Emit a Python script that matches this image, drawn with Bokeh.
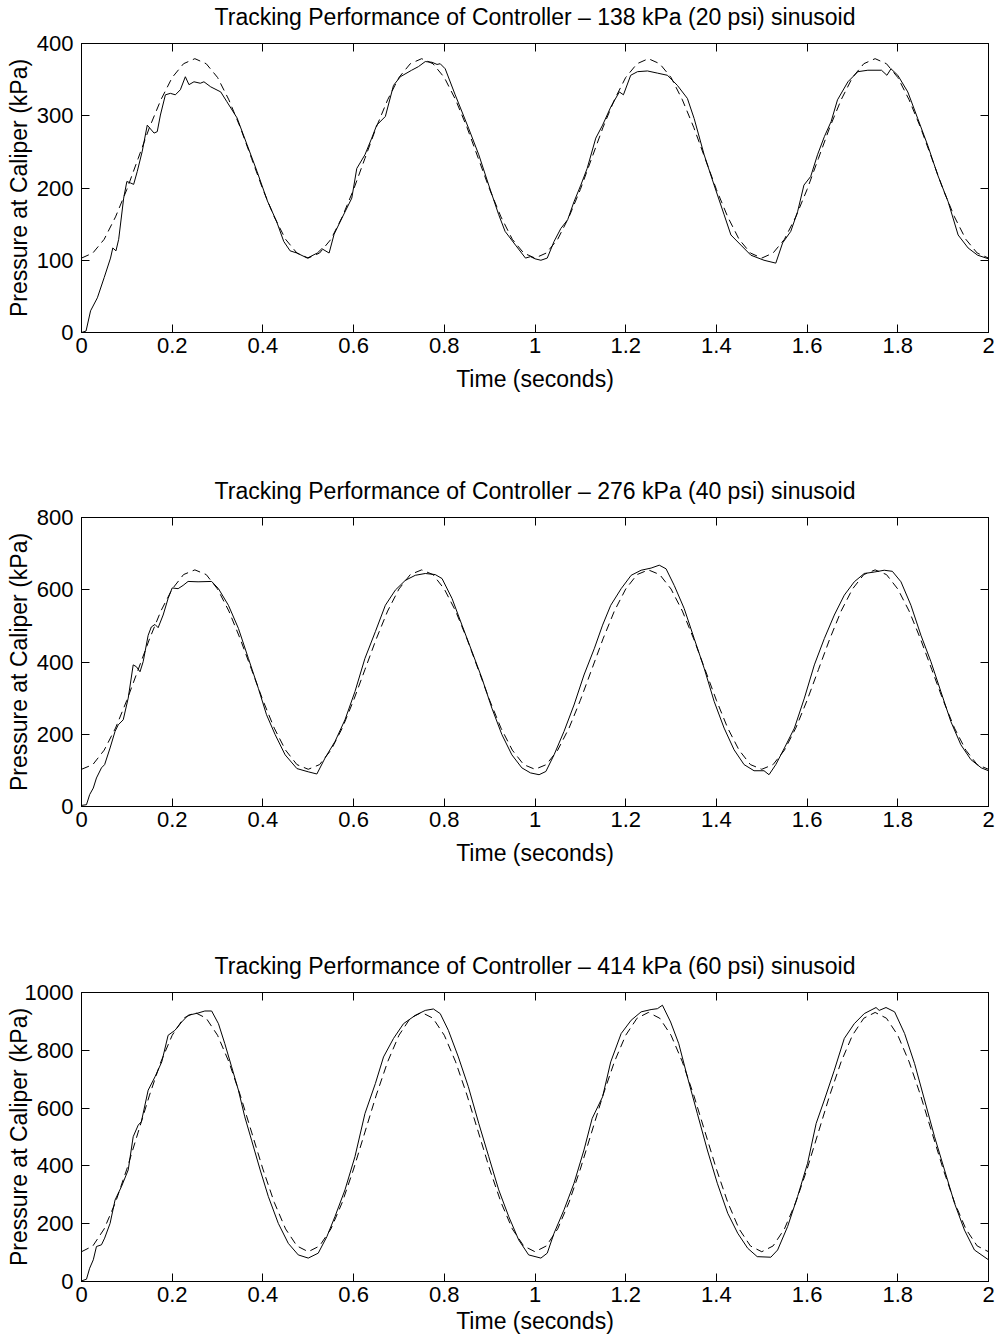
from bokeh.plotting import figure
from bokeh.layouts import column
from bokeh.models import Range1d, FixedTicker, LinearAxis
from bokeh.embed import file_html
from bokeh.resources import INLINE

FONT = "Liberation Sans"

titles = [
    "Tracking Performance of Controller \u2013 138 kPa (20 psi) sinusoid",
    "Tracking Performance of Controller \u2013 276 kPa (40 psi) sinusoid",
    "Tracking Performance of Controller \u2013 414 kPa (60 psi) sinusoid",
]
x_label = "Time (seconds)"
y_label = "Pressure at Caliper (kPa)"

x_ticks = [0, 0.2, 0.4, 0.6, 0.8, 1.0, 1.2, 1.4, 1.6, 1.8, 2.0]
x_tick_labels = ["0", "0.2", "0.4", "0.6", "0.8", "1", "1.2", "1.4", "1.6", "1.8", "2"]
y_ticks_1 = [0, 100, 200, 300, 400]
y_ticks_2 = [0, 200, 400, 600, 800]
y_ticks_3 = [0, 200, 400, 600, 800, 1000]
y_max = [400, 800, 1000]

# reference (dashed) sampled every 0.025 s
t_ref = [i * 0.025 for i in range(81)]
ref_1 = [103, 110, 129, 160, 198, 241, 284, 322, 353, 372, 379, 372, 353, 322, 284, 241, 198, 160, 129, 110,
         103, 110, 129, 160, 198, 241, 284, 322, 353, 372, 379, 372, 353, 322, 284, 241, 198, 160, 129, 110,
         103, 110, 129, 160, 198, 241, 284, 322, 353, 372, 379, 372, 353, 322, 284, 241, 198, 160, 129, 110,
         103, 110, 129, 160, 198, 241, 284, 322, 353, 372, 379, 372, 353, 322, 284, 241, 198, 160, 129, 110,
         103]
ref_2 = [103, 116, 156, 217, 294, 379, 464, 541, 602, 642, 655, 642, 602, 541, 464, 379, 294, 217, 156, 116,
         103, 116, 156, 217, 294, 379, 464, 541, 602, 642, 655, 642, 602, 541, 464, 379, 294, 217, 156, 116,
         103, 116, 156, 217, 294, 379, 464, 541, 602, 642, 655, 642, 602, 541, 464, 379, 294, 217, 156, 116,
         103, 116, 156, 217, 294, 379, 464, 541, 602, 642, 655, 642, 602, 541, 464, 379, 294, 217, 156, 116,
         103]
ref_3 = [103, 123, 182, 274, 389, 517, 645, 760, 852, 911, 931, 911, 852, 760, 645, 517, 389, 274, 182, 123,
         103, 123, 182, 274, 389, 517, 645, 760, 852, 911, 931, 911, 852, 760, 645, 517, 389, 274, 182, 123,
         103, 123, 182, 274, 389, 517, 645, 760, 852, 911, 931, 911, 852, 760, 645, 517, 389, 274, 182, 123,
         103, 123, 182, 274, 389, 517, 645, 760, 852, 911, 931, 911, 852, 760, 645, 517, 389, 274, 182, 123,
         103]

# measured (solid)
t_meas_1 = [0.000, 0.010, 0.020, 0.035, 0.050, 0.064, 0.069, 0.076, 0.082, 0.093, 0.100, 0.108, 0.115, 0.123,
            0.134, 0.145, 0.160, 0.167, 0.174, 0.185, 0.196, 0.207, 0.218, 0.229, 0.237, 0.248, 0.262, 0.270,
            0.285, 0.307, 0.320, 0.343, 0.365, 0.387, 0.410, 0.430, 0.446, 0.460, 0.475, 0.498, 0.520, 0.530,
            0.546, 0.557, 0.574, 0.596, 0.607, 0.625, 0.640, 0.651, 0.670, 0.688, 0.703, 0.728, 0.743, 0.758,
            0.773, 0.784, 0.791, 0.802, 0.824, 0.854, 0.876, 0.898, 0.920, 0.934, 0.957, 0.979, 0.990, 1.000,
            1.013, 1.027, 1.042, 1.057, 1.072, 1.086, 1.101, 1.115, 1.134, 1.149, 1.167, 1.186, 1.195, 1.211,
            1.226, 1.248, 1.270, 1.292, 1.314, 1.336, 1.351, 1.373, 1.395, 1.417, 1.432, 1.454, 1.476, 1.505,
            1.531, 1.546, 1.564, 1.579, 1.593, 1.608, 1.623, 1.638, 1.653, 1.667, 1.690, 1.712, 1.734, 1.764,
            1.776, 1.785, 1.800, 1.822, 1.844, 1.866, 1.888, 1.911, 1.933, 1.955, 1.976, 2.000]
v_meas_1 = [0, 2, 30, 48, 76, 103, 117, 113, 129, 186, 209, 207, 205, 223,
            251, 287, 276, 278, 301, 329, 331, 329, 336, 354, 343, 347, 345, 347,
            340, 333, 320, 297, 260, 223, 182, 154, 126, 113, 110, 103, 110, 116,
            110, 136, 158, 186, 227, 246, 269, 287, 299, 342, 354, 363, 368, 375,
            374, 371, 372, 365, 329, 282, 246, 204, 163, 140, 121, 103, 105, 102,
            100, 103, 126, 144, 156, 181, 204, 227, 269, 287, 312, 333, 329, 356,
            361, 362, 359, 356, 342, 324, 296, 246, 204, 163, 135, 121, 107, 100,
            96, 124, 140, 167, 204, 216, 246, 271, 292, 322, 347, 361, 363, 363,
            356, 365, 356, 333, 296, 259, 218, 181, 135, 117, 107, 102]

t_meas_2 = [0.000, 0.011, 0.018, 0.026, 0.033, 0.044, 0.051, 0.063, 0.074, 0.081, 0.092, 0.103, 0.114, 0.121,
            0.129, 0.136, 0.147, 0.154, 0.162, 0.169, 0.180, 0.191, 0.200, 0.213, 0.224, 0.235, 0.257, 0.287,
            0.302, 0.324, 0.346, 0.368, 0.390, 0.408, 0.427, 0.449, 0.475, 0.500, 0.519, 0.537, 0.559, 0.581,
            0.603, 0.625, 0.648, 0.670, 0.692, 0.714, 0.736, 0.758, 0.780, 0.795, 0.817, 0.839, 0.861, 0.883,
            0.905, 0.927, 0.949, 0.971, 0.990, 1.009, 1.024, 1.042, 1.064, 1.086, 1.108, 1.131, 1.149, 1.167,
            1.190, 1.212, 1.234, 1.256, 1.274, 1.289, 1.307, 1.329, 1.351, 1.373, 1.395, 1.417, 1.439, 1.461,
            1.483, 1.505, 1.516, 1.531, 1.550, 1.572, 1.594, 1.616, 1.638, 1.660, 1.682, 1.704, 1.726, 1.748,
            1.770, 1.788, 1.807, 1.829, 1.851, 1.873, 1.895, 1.917, 1.939, 1.961, 1.984, 2.000]
v_meas_2 = [3, 5, 33, 51, 79, 107, 116, 162, 208, 226, 240, 300, 392, 387,
            373, 401, 474, 497, 504, 495, 530, 576, 605, 603, 612, 623, 622, 623,
            603, 557, 493, 410, 327, 254, 199, 143, 105, 96, 90, 134, 180, 240,
            318, 410, 484, 557, 599, 626, 640, 645, 642, 631, 576, 502, 429, 355,
            272, 199, 143, 107, 93, 88, 97, 143, 208, 281, 364, 438, 502, 557,
            603, 640, 654, 660, 668, 658, 612, 548, 465, 383, 291, 217, 157, 116,
            99, 99, 88, 116, 162, 217, 300, 392, 465, 530, 585, 622, 645, 649,
            654, 651, 622, 557, 474, 401, 318, 235, 171, 130, 107, 99]

t_meas_3 = [0.000, 0.011, 0.018, 0.026, 0.033, 0.044, 0.051, 0.063, 0.074, 0.088, 0.103, 0.114, 0.125, 0.132,
            0.147, 0.162, 0.177, 0.191, 0.206, 0.221, 0.235, 0.257, 0.272, 0.287, 0.302, 0.316, 0.331, 0.346,
            0.360, 0.375, 0.394, 0.412, 0.434, 0.456, 0.478, 0.500, 0.522, 0.541, 0.559, 0.581, 0.603, 0.625,
            0.648, 0.666, 0.688, 0.710, 0.736, 0.758, 0.776, 0.791, 0.809, 0.831, 0.853, 0.876, 0.898, 0.920,
            0.942, 0.964, 0.986, 1.013, 1.027, 1.042, 1.064, 1.086, 1.108, 1.126, 1.149, 1.167, 1.190, 1.212,
            1.234, 1.256, 1.270, 1.281, 1.299, 1.317, 1.336, 1.358, 1.380, 1.402, 1.425, 1.447, 1.469, 1.490,
            1.520, 1.535, 1.557, 1.579, 1.601, 1.620, 1.638, 1.660, 1.682, 1.704, 1.726, 1.752, 1.759, 1.774,
            1.793, 1.815, 1.837, 1.859, 1.881, 1.903, 1.925, 1.947, 1.969, 2.000]
v_meas_3 = [2, 8, 46, 75, 121, 127, 150, 201, 282, 328, 386, 501, 541, 553,
            662, 708, 760, 852, 869, 898, 921, 929, 936, 936, 892, 823, 743, 662,
            570, 489, 386, 294, 201, 132, 92, 81, 98, 155, 225, 317, 432, 581,
            685, 777, 841, 892, 921, 938, 943, 927, 869, 777, 674, 547, 432, 317,
            225, 144, 92, 81, 98, 167, 248, 340, 455, 564, 639, 760, 858, 904,
            933, 941, 944, 956, 898, 823, 708, 581, 455, 340, 236, 167, 115, 86,
            84, 109, 190, 294, 409, 547, 628, 731, 841, 892, 927, 948, 938, 948,
            933, 858, 754, 628, 501, 386, 271, 178, 109, 75]


def style_axis(ax, size):
    ax.major_tick_in = 8
    ax.major_tick_out = 0
    ax.minor_tick_line_color = None
    ax.major_tick_line_color = "black"
    ax.axis_line_color = "black"
    ax.major_label_text_font = FONT
    ax.major_label_text_font_size = size
    ax.major_label_text_color = "black"
    ax.axis_label_text_font = FONT
    ax.axis_label_text_font_size = "23px"
    ax.axis_label_text_font_style = "normal"
    ax.axis_label_text_color = "black"


def make_panel(title, t_meas, v_meas, v_ref, ymax, yticks, height, bottom,
               xtick_standoff, xlab_standoff, ylab_standoff):
    p = figure(width=1000, height=height, x_range=Range1d(0, 2), y_range=Range1d(0, ymax),
               output_backend="svg", toolbar_location=None, frame_align=False,
               min_border_left=81, min_border_right=12, min_border_top=42,
               min_border_bottom=bottom,
               background_fill_color="white", border_fill_color="white")
    p.grid.visible = False
    p.outline_line_color = "black"
    p.outline_line_width = 1
    p.outline_line_alpha = 1

    p.line(t_ref, v_ref, line_color="black", line_width=1, line_dash="8 5")
    p.line(t_meas, v_meas, line_color="black", line_width=1)

    xa = p.xaxis[0]
    xa.ticker = FixedTicker(ticks=x_ticks)
    xa.major_label_overrides = {tk: lb for tk, lb in zip(x_ticks, x_tick_labels)}
    style_axis(xa, "22px")
    xa.major_label_standoff = xtick_standoff
    xa.axis_label = x_label
    xa.axis_label_standoff = xlab_standoff

    ya = p.yaxis[0]
    ya.ticker = FixedTicker(ticks=yticks)
    style_axis(ya, "22px")
    ya.major_label_standoff = 8
    ya.axis_label = y_label
    ya.axis_label_standoff = ylab_standoff

    top = LinearAxis(ticker=FixedTicker(ticks=x_ticks))
    style_axis(top, "0px")
    top.major_label_standoff = 0
    top.major_label_overrides = {tk: "" for tk in x_ticks}
    top.axis_label = title
    top.axis_label_standoff = 14
    p.add_layout(top, "above")

    right = LinearAxis(ticker=FixedTicker(ticks=yticks))
    style_axis(right, "0px")
    right.major_label_standoff = 0
    right.major_label_overrides = {tk: "" for tk in yticks}
    p.add_layout(right, "right")
    return p


p1 = make_panel(titles[0], t_meas_1, v_meas_1, ref_1, y_max[0], y_ticks_1, 474, 142, 5, 10, 2)
p2 = make_panel(titles[1], t_meas_2, v_meas_2, ref_2, y_max[1], y_ticks_2, 475, 143, 5, 10, 2)
p3 = make_panel(titles[2], t_meas_3, v_meas_3, ref_3, y_max[2], y_ticks_3, 392, 60, 5, 3, -10)

layout = column(p1, p2, p3, spacing=0)
open("out.html", "w").write(file_html(layout, INLINE))
